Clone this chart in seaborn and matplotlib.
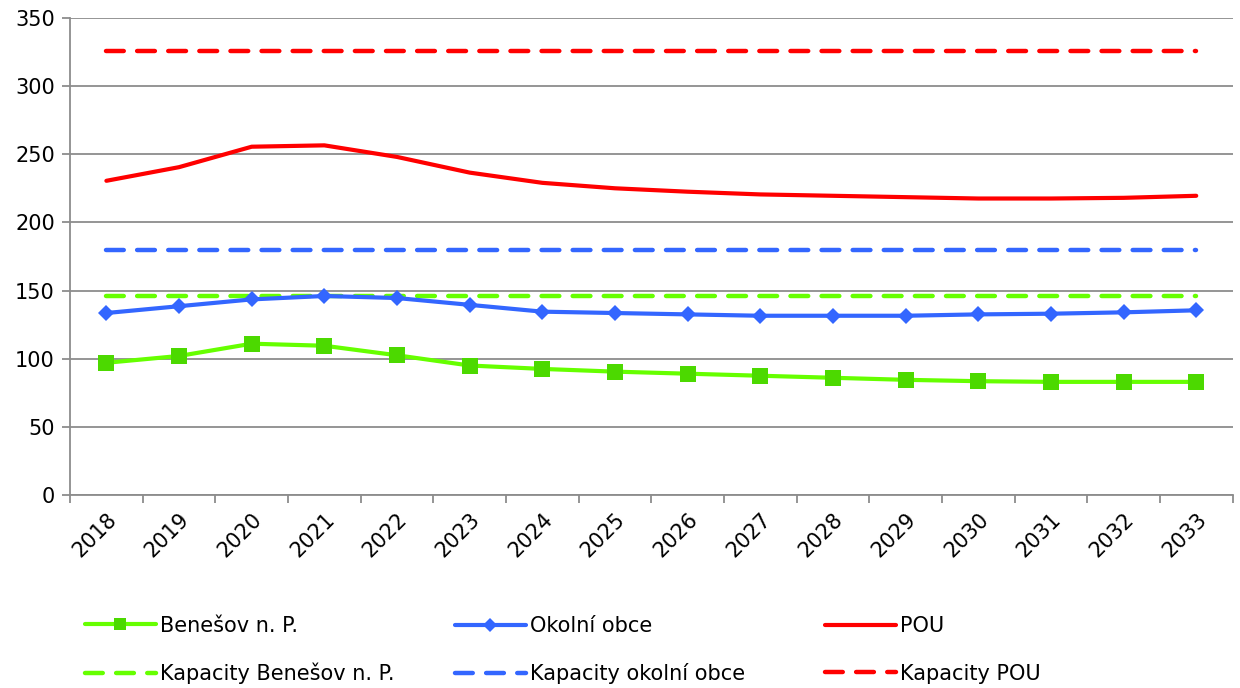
import matplotlib
matplotlib.use("Agg")
import matplotlib.pyplot as plt
import seaborn as sns
import pandas as pd
import numpy as np

years = [str(y) for y in range(2018, 2034)]
benesov = [97, 102, 111, 109.5, 102.5, 95, 92.5, 90.5, 89, 87.5, 86, 84.5, 83.5, 83, 83, 83]
okolni = [133.5, 138.5, 143.5, 146, 144.5, 139.5, 134.5, 133.5, 132.5, 131.5, 131.5, 131.5, 132.5, 133, 134, 135.5]
pou = [230.5, 240.5, 255.5, 256.5, 248, 236.5, 229, 225, 222.5, 220.5, 219.5, 218.5, 217.5, 217.5, 218, 219.5]
kap_benesov = [146] * 16
kap_okolni = [180] * 16
kap_pou = [326] * 16

labels = ["Benešov n. P.", "Okolní obce", "POU",
          "Kapacity Benešov n. P.", "Kapacity okolní obce", "Kapacity POU"]

sns.set_theme(style="white")
plt.rcParams['font.family'] = ['DejaVu Sans']
plt.rcParams['text.color'] = 'black'
plt.rcParams['xtick.color'] = 'black'
plt.rcParams['ytick.color'] = 'black'

fig = plt.figure(figsize=(12.4, 6.88), dpi=100)
ax = fig.add_axes([0.0565, 0.2805, 0.9375, 0.6935])

x = np.arange(len(years))
df = pd.DataFrame({"x": x, "ben": benesov, "oko": okolni, "pou": pou,
                   "kb": kap_benesov, "ko": kap_okolni, "kp": kap_pou})

green = "#66FF00"
green_m = "#4CD900"
blue = "#3366FF"
red = "#FF0000"

dash = dict(linestyle=(0, (4, 3)), dash_capstyle="round", linewidth=3.2)

sns.lineplot(data=df, x="x", y="kb", ax=ax, color=green, label=labels[3], **dash)
sns.lineplot(data=df, x="x", y="ko", ax=ax, color=blue, label=labels[4], **dash)
sns.lineplot(data=df, x="x", y="kp", ax=ax, color=red, label=labels[5], **dash)
sns.lineplot(data=df, x="x", y="pou", ax=ax, color=red, linewidth=3, label=labels[2],
             solid_capstyle="round")
sns.lineplot(data=df, x="x", y="oko", ax=ax, color=blue, linewidth=3, marker="D",
             markersize=8, markeredgewidth=0, markerfacecolor=blue, label=labels[1])
sns.lineplot(data=df, x="x", y="ben", ax=ax, color=green, linewidth=3, marker="s",
             markersize=11, markeredgewidth=0, markerfacecolor=green_m, label=labels[0])

ax.set_xlim(-0.5, 15.5)
ax.set_ylim(0, 350)
ax.set_yticks(range(0, 351, 50))
ax.set_xticks(x)
ax.set_xticklabels(years, rotation=45, ha="right", rotation_mode="anchor", fontsize=15)
ax.set_xticks(np.arange(-0.5, 16, 1), minor=True)
ax.tick_params(axis="x", which="major", length=0, pad=10, bottom=True)
ax.tick_params(axis="x", which="minor", length=6, width=1.3, color="#8c8c8c",
               direction="out", bottom=True)
ax.tick_params(axis="y", length=6, width=1.3, color="#8c8c8c", direction="out",
               labelsize=15, pad=5, left=True, labelcolor="black")
ax.set_xlabel("")
ax.set_ylabel("")
ax.yaxis.grid(True, color="#8c8c8c", linewidth=1.3)
ax.xaxis.grid(False)
for s in ["top", "right"]:
    ax.spines[s].set_visible(False)
for s in ["left", "bottom"]:
    ax.spines[s].set_color("#8c8c8c")
    ax.spines[s].set_linewidth(1.3)

handles, labs = ax.get_legend_handles_labels()
ax.get_legend().remove()
hmap = dict(zip(labs, handles))
cols = [(labels[0], labels[3]), (labels[1], labels[4]), (labels[2], labels[5])]
xpos = [85 / 1240, 455 / 1240, 825 / 1240]
for (a, b), xp in zip(cols, xpos):
    fig.legend([hmap[a], hmap[b]], [a, b], loc="center left",
               bbox_to_anchor=(xp, 1 - 650 / 688), frameon=False, fontsize=15,
               handlelength=3.4, handletextpad=0.2, labelspacing=1.3,
               borderpad=0, borderaxespad=0, markerscale=0.85)

fig.savefig("out.png", dpi=100)
